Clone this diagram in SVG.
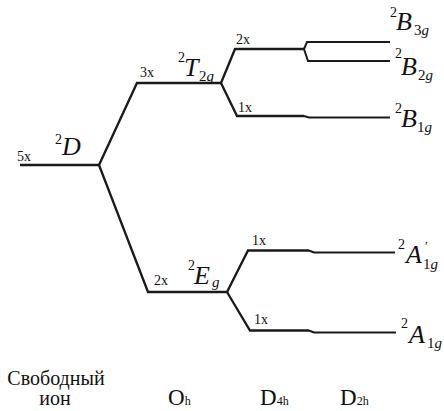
<svg xmlns="http://www.w3.org/2000/svg" width="444" height="411" viewBox="0 0 444 411" font-family="'Liberation Serif', 'DejaVu Serif', 'Times New Roman', serif">
<style>
text{font-family:'Liberation Serif','DejaVu Serif','Times New Roman',serif;fill:#111}
.ln{fill:none;stroke:#1a1a1a;stroke-width:2.3;stroke-linejoin:miter}
.ln2{fill:none;stroke:#1a1a1a;stroke-width:2;stroke-linejoin:miter}
.m{font-size:14px}
.sup{font-size:14px}
.big{font-size:26px;font-style:italic}
.sub{font-size:15px}
.g{font-style:italic}
.pr{font-size:13px}
.ax{font-size:20px}
.grp{font-size:23px}
.gs{font-size:12px}
</style>
<rect width="444" height="411" fill="#fff"/>
<g id="connectors">
<path class="ln" d="M20,165 H99 L137,83 H221 L235,49 H304"/>
<path class="ln" d="M99,165 L148,292 H227 L248,250.5 H309"/>
<path class="ln" d="M221,83 L237,116 H304"/>
<path class="ln" d="M227,292 L250,330.5 H309"/>
<path class="ln2" d="M304,49 L307,42 H390"/>
<path class="ln2" d="M304,49 L308,61 H390"/>
<path class="ln2" d="M304,116 L309,117.5 H390"/>
<path class="ln2" d="M309,250.5 L314,252.5 H395"/>
<path class="ln2" d="M309,330.5 L314,332.5 H396"/>
</g>
<g id="free-ion">
<text class="m" x="17" y="161">5x</text>
<text class="sup" x="55" y="144">2</text>
<text class="big" x="62" y="155">D</text>
</g>
<g id="T2g">
<text class="m" x="140" y="77">3x</text>
<text class="sup" x="178" y="62">2</text>
<text class="big" x="184" y="76">T</text>
<text class="sub" x="199" y="81">2<tspan class="g">g</tspan></text>
</g>
<g id="Eg">
<text class="m" x="154" y="285">2x</text>
<text class="sup" x="188" y="270">2</text>
<text class="big" x="194" y="284">E</text>
<text class="sub g" x="212" y="287">g</text>
</g>
<g id="D4h-upper">
<text class="m" x="236" y="44">2x</text>
</g>
<g id="D4h-B1g">
<text class="m" x="238" y="112">1x</text>
</g>
<g id="D4h-A1g-prime">
<text class="m" x="252" y="245">1x</text>
</g>
<g id="D4h-A1g">
<text class="m" x="254" y="324">1x</text>
</g>
<g id="B3g">
<text class="sup" x="390" y="17">2</text>
<text class="big" x="396" y="30">B</text>
<text class="sub" x="414" y="35">3<tspan class="g">g</tspan></text>
</g>
<g id="B2g">
<text class="sup" x="395" y="58">2</text>
<text class="big" x="401" y="75">B</text>
<text class="sub" x="418" y="80">2<tspan class="g">g</tspan></text>
</g>
<g id="B1g">
<text class="sup" x="395" y="113">2</text>
<text class="big" x="401" y="127">B</text>
<text class="sub" x="417" y="132">1<tspan class="g">g</tspan></text>
</g>
<g id="A1g-prime">
<text class="sup" x="398" y="249">2</text>
<text class="big" x="406" y="263">A</text>
<text class="pr" x="425" y="250">′</text>
<text class="sub" x="423" y="269">1<tspan class="g">g</tspan></text>
</g>
<g id="A1g">
<text class="sup" x="401" y="328">2</text>
<text class="big" x="409" y="343">A</text>
<text class="sub" x="427" y="348">1<tspan class="g">g</tspan></text>
</g>
<g id="axis-labels">
<text class="ax" x="56" y="385" text-anchor="middle">Свободный</text>
<text class="ax" x="55" y="405" text-anchor="middle">ион</text>
<text class="grp" x="168" y="405">O<tspan class="gs">h</tspan></text>
<text class="grp" x="260" y="405">D<tspan class="gs">4h</tspan></text>
<text class="grp" x="340" y="405">D<tspan class="gs">2h</tspan></text>
</g>
</svg>
